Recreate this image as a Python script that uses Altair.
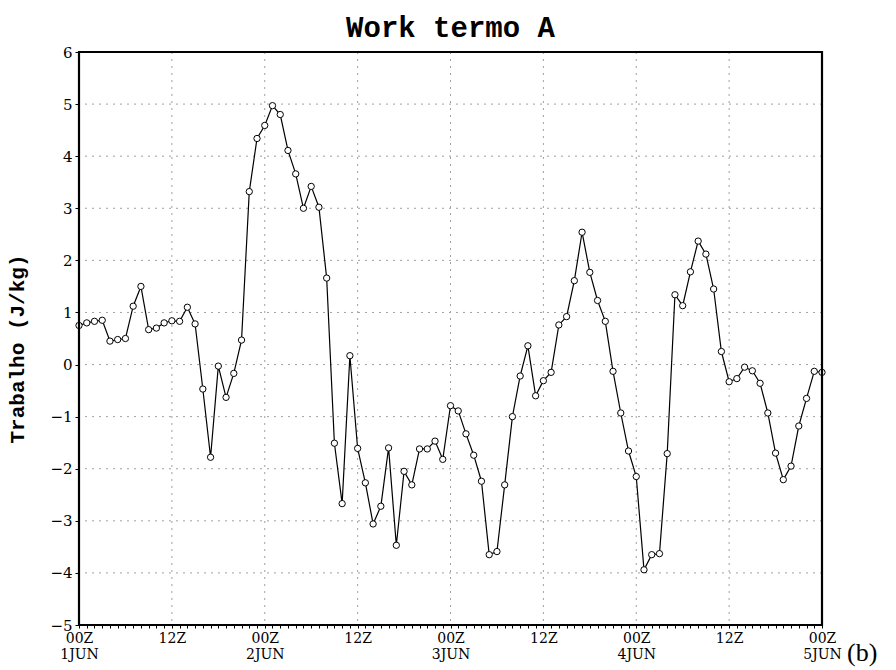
import altair as alt
import pandas as pd

# ---------------- data ----------------
hours = list(range(97))  # hourly, 00Z 1JUN .. 00Z 5JUN
work = [0.75, 0.80, 0.83, 0.85, 0.45, 0.48, 0.50, 1.12, 1.50, 0.67, 0.70, 0.80,
        0.84, 0.83, 1.10, 0.78, -0.47, -1.78, -0.03, -0.63, -0.17, 0.47,
        3.32, 4.34, 4.59, 4.97, 4.80, 4.11, 3.66, 3.00, 3.42, 3.02, 1.66,
        -1.51, -2.67, 0.17, -1.61, -2.27, -3.06, -2.72, -1.60, -3.47, -2.05,
        -2.31, -1.62, -1.62, -1.47, -1.82,
        -0.79, -0.89, -1.33, -1.74, -2.24, -3.65, -3.59, -2.31, -1.00, -0.22, 0.36,
        -0.60, -0.31, -0.15, 0.76, 0.92, 1.61, 2.54, 1.77, 1.23, 0.83, -0.13,
        -0.93, -1.66, -2.15,
        -3.94, -3.65, -3.63, -1.71, 1.34, 1.13, 1.78, 2.37, 2.12, 1.45, 0.25,
        -0.33, -0.27, -0.05, -0.12, -0.36, -0.93, -1.70, -2.21, -1.95, -1.18,
        -0.65, -0.13, -0.15]

x_tick_hours = [0, 12, 24, 36, 48, 60, 72, 84, 96]
x_tick_time = ["00Z", "12Z", "00Z", "12Z", "00Z", "12Z", "00Z", "12Z", "00Z"]
x_tick_day = ["1JUN", "", "2JUN", "", "3JUN", "", "4JUN", "", "5JUN"]
y_ticks = [-5, -4, -3, -2, -1, 0, 1, 2, 3, 4, 5, 6]
grid_x = [12, 24, 36, 48, 60, 72, 84]
grid_y = [-4, -3, -2, -1, 0, 1, 2, 3, 4, 5]

title_text = "Work termo A"
y_title = "Trabalho (J/kg)"
panel_tag = "(b)"

# ---------------- layout ----------------
W, H = 743, 573

df = pd.DataFrame({"hour": hours[:len(work)], "work": work})
gx = pd.DataFrame({"hour": grid_x})
gy = pd.DataFrame({"work": grid_y})

parts = []
for h, t, d in zip(x_tick_hours, x_tick_time, x_tick_day):
    lab = f"['{t}','{d}']" if d else f"'{t}'"
    parts.append(f"datum.value == {h} ? {lab} : ")
label_expr = "".join(parts) + "''"

xscale = alt.Scale(domain=[0, 96], nice=False, zero=False)
yscale = alt.Scale(domain=[-5, 6], nice=False, zero=False)

xaxis = alt.Axis(values=hours, labelExpr=label_expr, grid=False, domain=False,
                 tickSize=3, tickColor="black", tickWidth=1,
                 labelFont="DejaVu Serif", labelFontSize=14, labelColor="black",
                 labelPadding=3, labelLineHeight=16, labelOverlap=False,
                 labelFlush=False, labelBaseline="top", title=None)
yaxis = alt.Axis(values=y_ticks, grid=False, domain=False, tickSize=4,
                 tickColor="black", tickWidth=1, labelFont="DejaVu Serif",
                 labelFontSize=15, labelColor="black", labelPadding=3,
                 labelOverlap=False, labelFlush=False, title=None, format="d")

X = alt.X("hour:Q", scale=xscale, axis=xaxis)
Y = alt.Y("work:Q", scale=yscale, axis=yaxis)

vgrid = alt.Chart(gx).mark_rule(color="#a0a0a0", strokeWidth=1,
                                 strokeDash=[2, 5]).encode(x=X)
hgrid = alt.Chart(gy).mark_rule(color="#a0a0a0", strokeWidth=1,
                                 strokeDash=[2, 5]).encode(y=Y)

line = alt.Chart(df).mark_line(color="black", strokeWidth=1.2).encode(x=X, y=Y)
pts = alt.Chart(df).mark_point(shape="circle", filled=True, fill="white",
                               stroke="black", strokeWidth=1, size=40,
                               opacity=1).encode(x=X, y=Y)

fdf = pd.DataFrame({"f": [1]})
frame = alt.Chart(fdf).mark_rect(fill="transparent", stroke="black",
                                  strokeWidth=2.2).encode(
    x=alt.value(0), x2=alt.value(W), y=alt.value(0), y2=alt.value(H))

tdf = pd.DataFrame({"t": [title_text]})
title = alt.Chart(tdf).mark_text(font="Liberation Mono", fontWeight="bold",
                                  fontSize=29, color="black", align="center",
                                  baseline="alphabetic").encode(
    x=alt.value(W / 2), y=alt.value(-15), text="t:N")

ydf = pd.DataFrame({"t": [y_title]})
ytitle = alt.Chart(ydf).mark_text(font="Liberation Mono", fontWeight="bold",
                                   fontSize=21, color="black", angle=270,
                                   align="center", baseline="middle").encode(
    x=alt.value(-61), y=alt.value(297), text="t:N")

bdf = pd.DataFrame({"t": [panel_tag]})
btag = alt.Chart(bdf).mark_text(font="Liberation Serif", fontSize=26,
                                 color="black", align="left",
                                 baseline="alphabetic").encode(
    x=alt.value(768), y=alt.value(609), text="t:N")

chart = alt.layer(vgrid, hgrid, line, pts, frame, title, ytitle, btag).properties(
    width=W, height=H,
    autosize=alt.AutoSizeParams(type="none"),
    padding={"left": 71, "top": 44, "right": 66, "bottom": 44},
).configure_view(stroke=None).configure(background="white")

chart.save("out.html", embed_options={"renderer": "svg", "actions": False})
